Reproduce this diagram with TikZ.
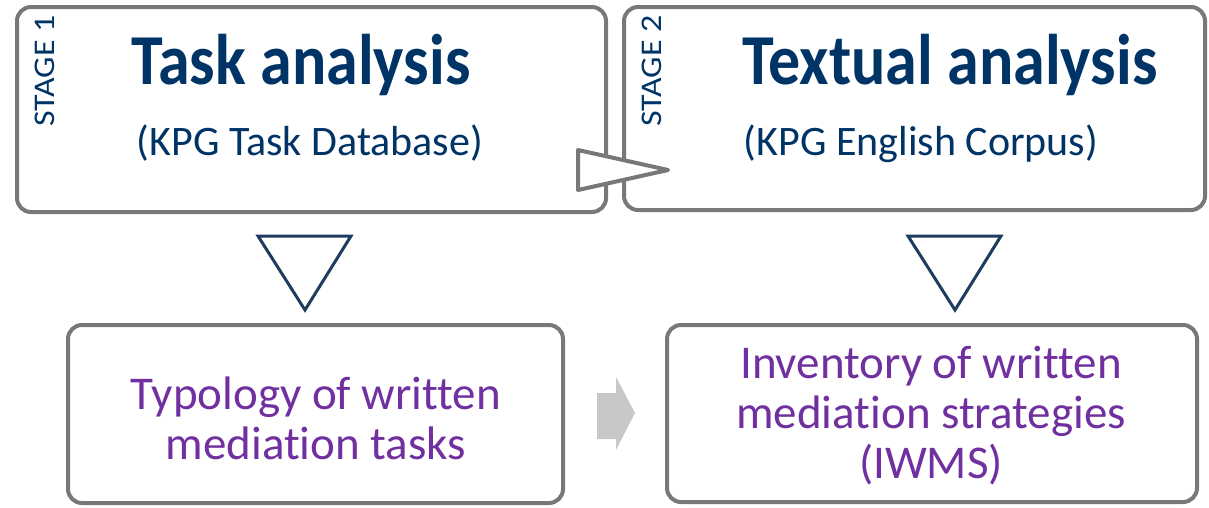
\documentclass[tikz,border=0pt]{standalone}
\usepackage{fontspec}
\setmainfont{Carlito}[Ligatures={NoCommon}]
\definecolor{navy}{HTML}{003366}
\definecolor{tri}{HTML}{1F3B5E}
\definecolor{purp}{HTML}{7030A0}
\definecolor{boxgray}{HTML}{787878}
\definecolor{arrgray}{HTML}{C8C8C8}
\tikzset{
  box/.style={draw=boxgray, line width=4pt, rounded corners=14pt, fill=white, inner sep=0pt},
  title/.style={text=navy, font=\fontsize{64}{64}\selectfont\bfseries, inner sep=0pt, anchor=base, yscale=1.12},
  sub/.style={text=navy, font=\fontsize{42}{42}\selectfont, inner sep=0pt, anchor=base},
  stage/.style={text=navy, font=\fontsize{30}{30}\selectfont, inner sep=0pt, rotate=90},
  result/.style={text=purp, font=\fontsize{47}{50}\selectfont, align=center, inner sep=0pt},
  downtri/.style={draw=tri, line width=3pt, line join=miter, fill=white},
}
\begin{document}
\begin{tikzpicture}[x=1pt,y=-1pt]
\useasboundingbox (0,0) rectangle (1209,507);
% boxes
\node[box, minimum width=589pt, minimum height=205pt] (s1) at (311.5,109.5) {};
\node[box, minimum width=581pt, minimum height=203pt] (s2) at (914.5,108.5) {};
\node[box, minimum width=495pt, minimum height=178pt] (r1) at (315.5,414) {};
\node[box, minimum width=530pt, minimum height=177pt] (r2) at (932,413.5) {};
% stage 1 texts
\node[title] (t1) at (301,84) {Task analysis};
\node[sub] (st1) at (310,155) {(KPG Task Database)};
\node[stage] (l1) at (45,71) {\scalebox{1.13}[1]{STAGE 1}};
% stage 2 texts
\node[title] (t2) at (950,84) {Textual analysis};
\node[sub] (st2) at (921,155) {(KPG English Corpus)};
\node[stage] (l2) at (652,71) {\scalebox{1.13}[1]{STAGE 2}};
% results
\node[result] (x1) at (316,418) {Typology of written\\mediation tasks};
\node[result] (x2) at (931,416) {Inventory of written\\mediation strategies\\(IWMS)};
% stage arrow (outlined triangle)
\draw[draw=boxgray, line width=4pt, line join=round, fill=white]
  (578,150) -- (668,170) -- (578,190) -- cycle;
% down triangles
\draw[downtri] (258,236) -- (351,236) -- (305,310) -- cycle;
\draw[downtri] (908,236) -- (1001,236) -- (955,310) -- cycle;
% gray block arrow
\fill[arrgray] (597,393) -- (616,393) -- (616,377) -- (635,413) -- (616,450) -- (616,439) -- (597,439) -- cycle;
\end{tikzpicture}
\end{document}
